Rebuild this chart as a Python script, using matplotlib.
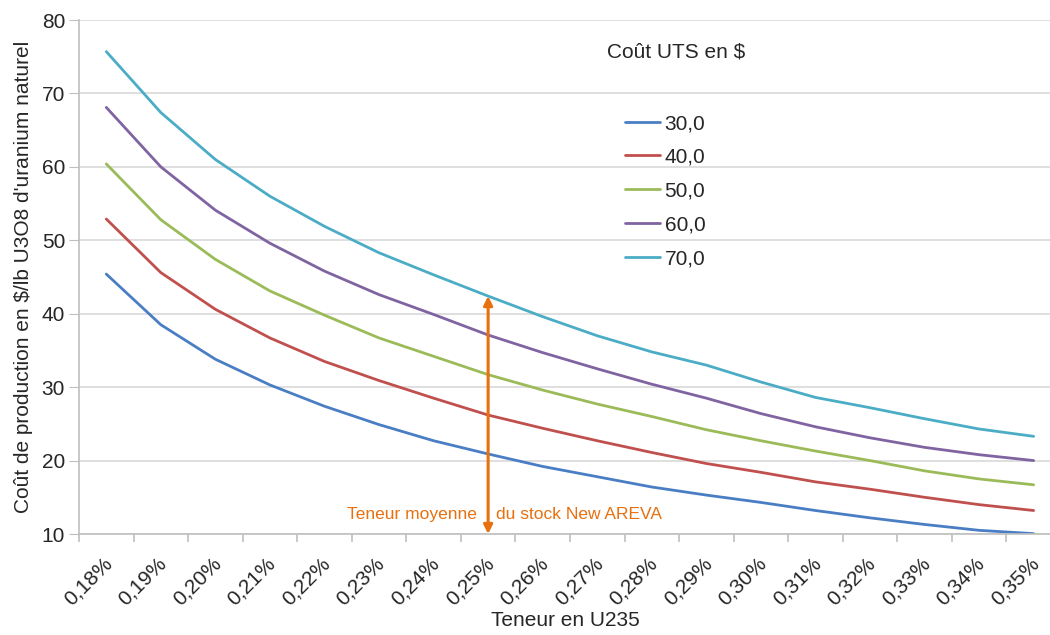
import matplotlib.pyplot as plt

plt.rcParams['font.family'] = ['Liberation Sans', 'DejaVu Sans']

teneurs = ['0,18%', '0,19%', '0,20%', '0,21%', '0,22%', '0,23%', '0,24%', '0,25%', '0,26%',
           '0,27%', '0,28%', '0,29%', '0,30%', '0,31%', '0,32%', '0,33%', '0,34%', '0,35%']

uts_30 = [45.4, 38.5, 33.8, 30.3, 27.4, 24.9, 22.7, 20.9, 19.2,
          17.8, 16.4, 15.3, 14.3, 13.2, 12.2, 11.3, 10.5, 10.05]
uts_40 = [52.9, 45.6, 40.6, 36.7, 33.5, 30.9, 28.5, 26.2, 24.4,
          22.7, 21.1, 19.6, 18.4, 17.1, 16.1, 15.0, 14.0, 13.2]
uts_50 = [60.4, 52.8, 47.4, 43.1, 39.8, 36.7, 34.2, 31.7, 29.6,
          27.7, 26.0, 24.2, 22.7, 21.3, 20.0, 18.6, 17.5, 16.7]
uts_60 = [68.1, 60.0, 54.1, 49.6, 45.8, 42.6, 39.9, 37.1, 34.7,
          32.5, 30.4, 28.5, 26.4, 24.6, 23.1, 21.8, 20.8, 20.0]
uts_70 = [75.7, 67.4, 61.0, 56.0, 51.9, 48.3, 45.3, 42.4, 39.6,
          37.0, 34.8, 33.0, 30.7, 28.6, 27.2, 25.7, 24.3, 23.3]

series = [('30,0', uts_30, '#4A7EC4'),
          ('40,0', uts_40, '#C0504D'),
          ('50,0', uts_50, '#9BBB59'),
          ('60,0', uts_60, '#8064A2'),
          ('70,0', uts_70, '#4BACC6')]

stock_idx = 7  # 0,25%
orange = '#E8700F'
txt = '#262626'

fig = plt.figure(figsize=(10.5, 6.35), dpi=100)
ax = fig.add_axes([79 / 1050, 101 / 635, 971 / 1050, 514 / 635])

x = list(range(len(teneurs)))
for name, vals, col in series:
  ax.plot(x, vals, color=col, lw=2.0, label=name, solid_capstyle='round')

ax.set_xlim(-0.5, 17.3)
ax.set_ylim(10, 80)
ax.set_yticks(range(10, 81, 10))
ax.set_xticks([i + 0.05 for i in x])
ax.set_xticklabels(teneurs, rotation=45, ha='right', va='center', rotation_mode='anchor')
ax.set_xticks([i - 0.5 for i in range(len(teneurs))], minor=True)

ax.grid(axis='y', color='#D9D9D9', lw=1.2)
ax.set_axisbelow(True)
for s in ['top', 'right']:
  ax.spines[s].set_visible(False)
for s in ['left', 'bottom']:
  ax.spines[s].set_color('#BFBFBF')
  ax.spines[s].set_linewidth(1.2)

ax.tick_params(axis='y', length=7, color='#BFBFBF', labelsize=15, labelcolor=txt, pad=3)
ax.tick_params(axis='x', which='major', length=0, labelsize=15, labelcolor=txt, pad=19)
ax.tick_params(axis='x', which='minor', length=6, color='#BFBFBF', width=1.2)

fig.text(565 / 1050, 1 - 620 / 635, 'Teneur en U235', fontsize=15, color=txt, ha='center', va='center')
ax.set_ylabel("Coût de production en $/lb U3O8 d'uranium naturel", fontsize=15, color=txt, labelpad=6)

# double fleche a la teneur moyenne du stock
ax.annotate('', xy=(stock_idx, uts_70[stock_idx]), xytext=(stock_idx, 10),
            arrowprops=dict(arrowstyle='<|-|>', color=orange, lw=2.2, mutation_scale=13,
                            shrinkA=0, shrinkB=0))
ax.text(stock_idx - 0.2, 12.6, 'Teneur moyenne', color=orange, fontsize=12.5, ha='right', va='center')
ax.text(stock_idx + 0.15, 12.6, 'du stock New AREVA', color=orange, fontsize=12.5, ha='left', va='center')

fig.text(607 / 1050, 1 - 52 / 635, 'Coût UTS en $', fontsize=15, color=txt, va='center')
ax.legend(loc='upper left', bbox_to_anchor=(625 / 1050, 1 - 114 / 635), bbox_transform=fig.transFigure,
          frameon=False, fontsize=15, handlelength=1.7, handletextpad=0.2, labelspacing=0.71,
          borderpad=0, borderaxespad=0, labelcolor=txt)

fig.savefig('out.png', dpi=100)
